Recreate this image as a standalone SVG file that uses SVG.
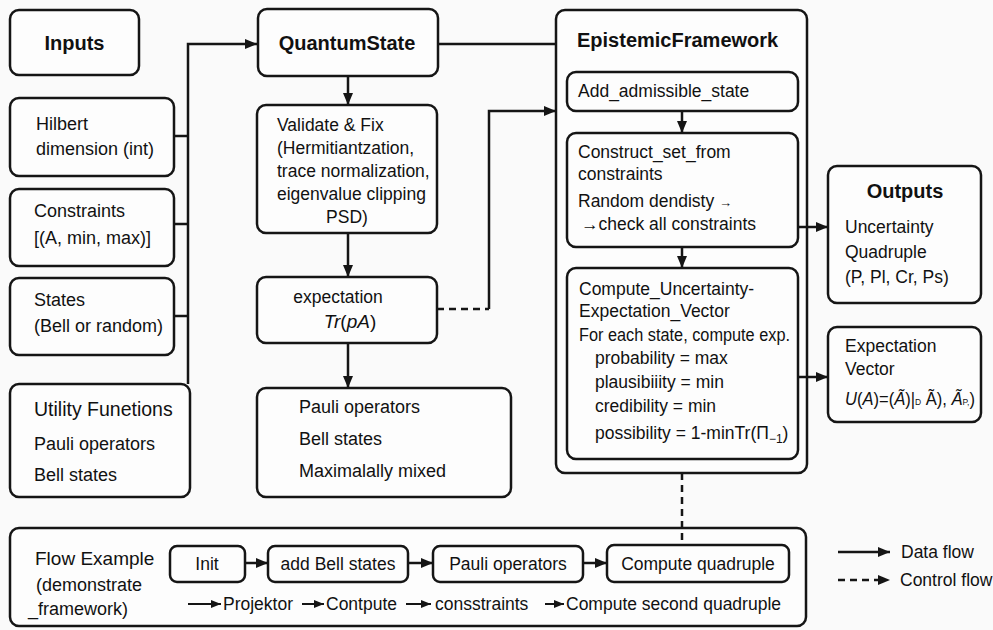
<svg xmlns="http://www.w3.org/2000/svg" width="993" height="630" viewBox="0 0 993 630">
<defs>
<style>
.box{fill:#fdfdfd;stroke:#151515;stroke-width:2.5}
.t{font-family:"Liberation Sans",Arial,sans-serif;font-size:17.5px;fill:#111}
.tl{font-family:"Liberation Sans",Arial,sans-serif;font-size:18px;fill:#111}
.h{font-family:"Liberation Sans",Arial,sans-serif;font-size:20px;font-weight:bold;fill:#111}
.c{fill:none;stroke:#151515;stroke-width:2.5}
.d{fill:none;stroke:#151515;stroke-width:2.5;stroke-dasharray:7 5}
.s{fill:none;stroke:#151515;stroke-width:2}
.i{font-style:italic}
</style>
<marker id="ah" viewBox="0 0 12 10" refX="12" refY="5" markerWidth="12" markerHeight="10" markerUnits="userSpaceOnUse" orient="auto">
<path d="M0,0 L12,5 L0,10 z" fill="#151515"/>
</marker>
<marker id="ahs" viewBox="0 0 10 8" refX="10" refY="4" markerWidth="10" markerHeight="8" markerUnits="userSpaceOnUse" orient="auto">
<path d="M0,0 L10,4 L0,8 z" fill="#151515"/>
</marker>
</defs>
<rect x="0" y="0" width="993" height="630" fill="#fafafa"/>

<g id="inputs">
<rect class="box" x="10" y="10" width="129" height="65" rx="9"/>
<text class="h" x="74.5" y="50" text-anchor="middle">Inputs</text>
</g>
<g id="hilbert">
<rect class="box" x="10" y="98" width="164" height="78" rx="9"/>
<text class="tl" x="36" y="130">Hilbert</text>
<text class="tl" x="36" y="155">dimension (int)</text>
</g>
<g id="constraints">
<rect class="box" x="10" y="189" width="164" height="77" rx="9"/>
<text class="tl" x="34" y="217">Constraints</text>
<text class="tl" x="34" y="244">[(A, min, max)]</text>
</g>
<g id="states">
<rect class="box" x="10" y="278" width="164" height="77" rx="9"/>
<text class="tl" x="34" y="306">States</text>
<text class="tl" x="34" y="332">(Bell or random)</text>
</g>
<g id="utility">
<rect class="box" x="10" y="384" width="180" height="113" rx="9"/>
<text class="tl" x="34" y="416" style="font-size:19.5px">Utility Funetions</text>
<text class="tl" x="34" y="450">Pauli operators</text>
<text class="tl" x="34" y="481">Bell states</text>
</g>

<g id="quantumstate">
<rect class="box" x="258" y="9" width="180" height="67" rx="9"/>
<text class="h" x="347" y="50" text-anchor="middle">QuantumState</text>
</g>
<g id="validate">
<rect class="box" x="257" y="105" width="180" height="128" rx="9"/>
<text class="t" x="277" y="131">Validate &amp; Fix</text>
<text class="t" x="277" y="154">(Hermitiantzation,</text>
<text class="t" x="277" y="177">trace normalization,</text>
<text class="t" x="277" y="200">eigenvalue clipping</text>
<text class="t" x="347" y="223" text-anchor="middle">PSD)</text>
</g>
<g id="expectation">
<rect class="box" x="257" y="277" width="180" height="66" rx="9"/>
<text class="t" x="338" y="303" text-anchor="middle">expectation</text>
<text class="t" x="350" y="328" text-anchor="middle" style="font-size:19px"><tspan class="i">Tr</tspan>(<tspan class="i">pA</tspan>)</text>
</g>
<g id="pauli">
<rect class="box" x="257" y="388" width="254" height="109" rx="9"/>
<text class="tl" x="299" y="413">Pauli operators</text>
<text class="tl" x="299" y="445">Bell states</text>
<text class="tl" x="299" y="477">Maximalally mixed</text>
</g>

<g id="epistemic">
<rect class="box" x="556" y="10" width="251" height="463" rx="9"/>
<text class="h" x="577" y="47">EpistemicFramework</text>
</g>
<g id="add">
<rect class="box" x="567" y="72" width="231" height="39" rx="9"/>
<text class="t" x="578" y="97">Add_admissible_state</text>
</g>
<g id="construct">
<rect class="box" x="567" y="133" width="231" height="114" rx="9"/>
<text class="t" x="578" y="158">Construct_set_from</text>
<text class="t" x="578" y="180">constraints</text>
<text class="t" x="578" y="207">Random dendisty <tspan style="font-size:13px">→</tspan></text>
<text class="t" x="581" y="230">→check all constraints</text>
</g>
<g id="compute">
<rect class="box" x="567" y="268" width="231" height="191" rx="9"/>
<text class="t" x="579" y="295">Compute_Uncertainty-</text>
<text class="t" x="579" y="317">Expectation_Vector</text>
<text class="t" x="579" y="341" textLength="211" lengthAdjust="spacingAndGlyphs">For each state, compute exp.</text>
<text class="t" x="595" y="364">probability = max</text>
<text class="t" x="595" y="388">plausibiiity = min</text>
<text class="t" x="595" y="412">credibility = min</text>
<text class="t" x="595" y="439">possibility = 1-minTr(Π<tspan dy="4" style="font-size:12px">−1</tspan><tspan dy="-4">)</tspan></text>
</g>

<g id="outputs">
<rect class="box" x="828" y="166" width="153" height="137" rx="9"/>
<text class="h" x="905" y="198" text-anchor="middle">Outputs</text>
<text class="t" x="845" y="233">Uncertainty</text>
<text class="t" x="845" y="258">Quadruple</text>
<text class="t" x="845" y="283">(P, Pl, Cr, Ps)</text>
</g>
<g id="expvector">
<rect class="box" x="828" y="327" width="153" height="95" rx="9"/>
<text class="t" x="845" y="352">Expectation</text>
<text class="t" x="845" y="375">Vector</text>
<text class="t" x="845" y="405" textLength="130" lengthAdjust="spacingAndGlyphs"><tspan class="i">U</tspan>(<tspan class="i">A</tspan>)=(<tspan class="i">Ã</tspan>)|<tspan style="font-size:9px">D</tspan> Ã), <tspan class="i">Ã</tspan><tspan style="font-size:9px">P,</tspan>)</text>
</g>

<g id="flow">
<rect class="box" x="10" y="528" width="796" height="98" rx="9"/>
<text class="tl" x="35" y="565" style="font-size:19px">Flow Example</text>
<text class="tl" x="36" y="591">(demonstrate</text>
<text class="tl" x="28" y="615">_framework)</text>
<text class="t" x="223" y="610">Projektor</text>
<text class="t" x="326" y="610">Contpute</text>
<text class="t" x="435" y="610">consstraints</text>
<text class="t" x="566" y="610">Compute second quadruple</text>
</g>
<g id="init">
<rect class="box" x="170" y="546" width="75" height="36" rx="7"/>
<text class="t" x="207" y="570" text-anchor="middle">Init</text>
</g>
<g id="addbell">
<rect class="box" x="268" y="546" width="140" height="36" rx="7"/>
<text class="t" x="338" y="570" text-anchor="middle">add Bell states</text>
</g>
<g id="paulistep">
<rect class="box" x="433" y="546" width="150" height="36" rx="7"/>
<text class="t" x="508" y="570" text-anchor="middle">Pauli operators</text>
</g>
<g id="computeq">
<rect class="box" x="607" y="545" width="182" height="37" rx="7"/>
<text class="t" x="698" y="570" text-anchor="middle">Compute quadruple</text>
</g>

<g id="legend">
<path class="c" d="M838,552 H890" marker-end="url(#ah)"/>
<path class="d" d="M838,580 H878"/>
<path d="M878,575 L890,580 L878,585 z" fill="#151515"/>
<text class="t" x="901" y="558">Data flow</text>
<text class="t" x="900" y="586">Control flow</text>
</g>

<g id="connectors">
<path class="c" d="M188,384 V44 H257" marker-end="url(#ah)"/>
<path class="c" d="M174,136 H188"/>
<path class="c" d="M174,224 H188"/>
<path class="c" d="M174,316 H188"/>
<path class="c" d="M438,44 H556"/>
<path class="c" d="M348,76 V105" marker-end="url(#ah)"/>
<path class="c" d="M348,233 V277" marker-end="url(#ah)"/>
<path class="c" d="M348,343 V388" marker-end="url(#ah)"/>
<path class="d" d="M437,309 H489"/>
<path class="c" d="M489,309 V111 H556" marker-end="url(#ah)"/>
<path class="c" d="M682,111 V133" marker-end="url(#ah)"/>
<path class="c" d="M682,247 V268" marker-end="url(#ah)"/>
<path class="c" d="M798,227 H828" marker-end="url(#ah)"/>
<path class="c" d="M798,377 H828" marker-end="url(#ah)"/>
<path class="d" d="M682,473 V545"/>
<path class="c" d="M245,563 H268" marker-end="url(#ah)"/>
<path class="c" d="M408,563 H433" marker-end="url(#ah)"/>
<path class="c" d="M583,563 H607" marker-end="url(#ah)"/>
<path class="s" d="M188,604 H221" marker-end="url(#ahs)"/>
<path class="s" d="M302,604 H324" marker-end="url(#ahs)"/>
<path class="s" d="M406,604 H431" marker-end="url(#ahs)"/>
<path class="s" d="M545,604 H564" marker-end="url(#ahs)"/>
</g>
</svg>
